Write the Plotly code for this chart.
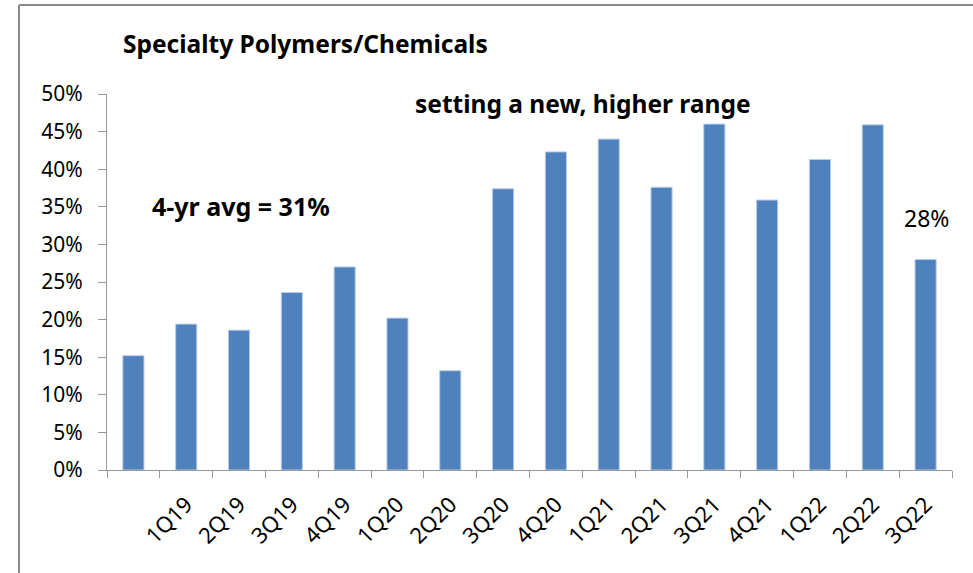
import plotly.graph_objects as go

quarters = ["4Q18", "1Q19", "2Q19", "3Q19", "4Q19", "1Q20", "2Q20", "3Q20", "4Q20",
            "1Q21", "2Q21", "3Q21", "4Q21", "1Q22", "2Q22", "3Q22"]
tick_labels = ["", "1Q19", "2Q19", "3Q19", "4Q19", "1Q20", "2Q20", "3Q20", "4Q20",
               "1Q21", "2Q21", "3Q21", "4Q21", "1Q22", "2Q22", "3Q22"]
values = [15.2, 19.4, 18.6, 23.6, 27.0, 20.2, 13.2, 37.4, 42.3,
          44.0, 37.6, 46.0, 35.9, 41.3, 45.9, 28.0]
y_ticks = [0, 5, 10, 15, 20, 25, 30, 35, 40, 45, 50]
y_tick_labels = ["0%", "5%", "10%", "15%", "20%", "25%", "30%", "35%", "40%", "45%", "50%"]

FONT = "Noto Sans"
W, H = 973, 573
L, R, T, B = 107, 21, 94, 103
pw, ph = W - L - R, H - T - B

def px_x(px):
    return (px - L) / pw

def px_y(py):
    return (H - B - py) / ph

fig = go.Figure()
fig.add_trace(go.Bar(
    x=quarters, y=values,
    marker=dict(color="#4F81BD", line=dict(color="#B9CDE5", width=1)),
    hoverinfo="x+y",
))

fig.update_layout(
    width=W, height=H,
    margin=dict(l=L, r=R, t=T, b=B, autoexpand=False),
    paper_bgcolor="white", plot_bgcolor="white",
    bargap=0.6,
    showlegend=False,
    font=dict(family=FONT, color="#000000"),
    title=dict(text="<b>Specialty Polymers/Chemicals</b>",
               x=123 / W, xref="container", xanchor="left",
               y=1 - 44 / H, yref="container", yanchor="middle",
               font=dict(family=FONT, size=24.5, color="#000000")),
    xaxis=dict(type="category", tickson="boundaries",
               tickvals=quarters, ticktext=tick_labels,
               tickangle=-45, ticks="outside", ticklen=7, tickcolor="#999999",
               ticklabelstandoff=12,
               showline=True, linecolor="#999999", linewidth=1,
               showgrid=False, tickfont=dict(family=FONT, size=22)),
    yaxis=dict(range=[0, 50], tickvals=y_ticks, ticktext=y_tick_labels,
               ticks="outside", ticklen=8, tickcolor="#999999",
               ticklabelstandoff=11,
               showline=True, linecolor="#999999", linewidth=1,
               showgrid=False, zeroline=False,
               tickfont=dict(family=FONT, size=21)),
)

fig.add_annotation(text="<b>setting a new, higher range</b>", xref="paper", yref="paper",
                   x=px_x(413), y=px_y(103), xanchor="left", yanchor="middle",
                   showarrow=False, font=dict(family=FONT, size=24.5))
fig.add_annotation(text="<b>4-yr avg = 31%</b>", xref="paper", yref="paper",
                   x=px_x(150), y=px_y(206), xanchor="left", yanchor="middle",
                   showarrow=False, font=dict(family=FONT, size=25))
fig.add_annotation(text="28%", xref="paper", yref="paper",
                   x=px_x(902), y=px_y(218), xanchor="left", yanchor="middle",
                   showarrow=False, font=dict(family=FONT, size=23))

# chart frame (left and top edges visible)
fig.add_shape(type="line", xref="paper", yref="paper",
              x0=px_x(19), y0=px_y(5), x1=px_x(19), y1=px_y(575),
              line=dict(color="#8C8C8C", width=2))
fig.add_shape(type="line", xref="paper", yref="paper",
              x0=px_x(19), y0=px_y(5), x1=px_x(975), y1=px_y(5),
              line=dict(color="#8C8C8C", width=2))

fig.write_html("out.html",
               config={"displayModeBar": False},
               post_script="document.body.style.margin='0';document.body.style.overflow='hidden';")
